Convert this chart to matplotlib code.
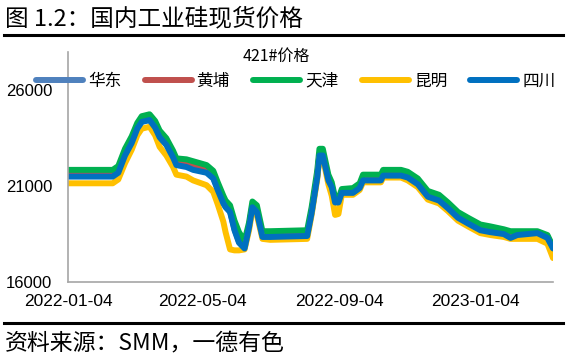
import matplotlib
matplotlib.use("Agg")
import matplotlib.pyplot as plt
import matplotlib.dates as mdates
from matplotlib.lines import Line2D
import pandas as pd

plt.rcParams['font.family'] = ['Noto Sans CJK SC', 'DejaVu Sans']

title = "图 1.2：国内工业硅现货价格"
chart_title = "421#价格"
source = "资料来源：SMM，一德有色"
series_names = ["华东", "黄埔", "天津", "昆明", "四川"]
colors = ["#4F81BD", "#C0504D", "#00B050", "#FFC000", "#0070C0"]

dates = ["2022-01-04", "2022-02-13", "2022-02-18", "2022-02-24", "2022-03-02",
         "2022-03-07", "2022-03-11", "2022-03-18", "2022-03-23", "2022-03-27",
         "2022-04-02", "2022-04-08", "2022-04-11", "2022-04-20", "2022-04-26",
         "2022-05-08", "2022-05-14", "2022-05-18", "2022-05-23", "2022-05-25",
         "2022-05-29", "2022-06-02", "2022-06-06", "2022-06-11", "2022-06-15",
         "2022-06-18", "2022-06-22", "2022-06-27", "2022-07-04", "2022-08-06",
         "2022-08-10", "2022-08-15", "2022-08-17", "2022-08-20", "2022-08-25",
         "2022-08-28", "2022-08-31", "2022-09-03", "2022-09-06", "2022-09-16",
         "2022-09-22", "2022-09-25", "2022-10-11", "2022-10-13", "2022-10-29",
         "2022-11-04", "2022-11-13", "2022-11-22", "2022-12-02", "2022-12-10",
         "2022-12-19", "2022-12-28", "2023-01-08", "2023-01-17", "2023-01-29",
         "2023-02-04", "2023-02-10", "2023-02-28", "2023-03-09", "2023-03-14"]

sichuan = [21500, 21500, 21700, 22600, 23250, 24000, 24350, 24450, 24050, 23550,
           23150, 22500, 22100, 22000, 21850, 21700, 21400, 20800, 20100, 19900,
           19650, 18700, 18050, 17750, 18850, 19900, 19650, 18350, 18350, 18400,
           19600, 21450, 22600, 22600, 21300, 20950, 20150, 20150, 20650, 20650,
           20900, 21300, 21300, 21550, 21550, 21450, 21100, 20450, 20250, 19850,
           19350, 19050, 18700, 18600, 18500, 18300, 18450, 18550, 18300, 17750]

huadong = [21550, 21550, 21750, 22650, 23300, 24050, 24400, 24450, 24100, 23650,
           23250, 22600, 22150, 22100, 21950, 21800, 21450, 20850, 20150, 19950,
           19700, 18750, 18100, 17800, 18900, 19950, 19700, 18400, 18400, 18450,
           19650, 21500, 22600, 22600, 21350, 21000, 20200, 20200, 20700, 20700,
           20950, 21350, 21350, 21600, 21600, 21500, 21150, 20500, 20300, 19900,
           19400, 19100, 18750, 18650, 18550, 18350, 18500, 18600, 18350, 17700]

huangpu = [21600, 21600, 21800, 22700, 23400, 24150, 24500, 24500, 24150, 23650,
           23250, 22650, 22300, 22250, 22150, 21950, 21600, 20950, 20250, 20000,
           19750, 18850, 18200, 17900, 18950, 20000, 19750, 18450, 18450, 18500,
           19700, 21550, 22700, 22700, 21400, 21050, 20250, 20250, 20750, 20750,
           21000, 21400, 21400, 21650, 21650, 21550, 21200, 20550, 20350, 19950,
           19450, 19150, 18800, 18700, 18600, 18500, 18550, 18600, 18400, 17650]

tianjin = [21850, 21850, 22050, 22950, 23600, 24300, 24650, 24750, 24400, 23900,
           23500, 22850, 22450, 22400, 22300, 22100, 21800, 21200, 20500, 20250,
           20000, 19200, 18600, 18150, 19100, 20200, 20000, 18650, 18650, 18700,
           19900, 21800, 22950, 22950, 21600, 21200, 20400, 20350, 20850, 20900,
           21150, 21600, 21600, 21850, 21850, 21750, 21400, 20750, 20550, 20150,
           19650, 19350, 19000, 18900, 18750, 18650, 18650, 18650, 18450, 17850]

kunming = [21150, 21150, 21350, 22200, 22900, 23650, 24000, 24100, 23650, 23050,
           22600, 22000, 21600, 21500, 21300, 21050, 20700, 20050, 19150, 18600,
           17700, 17650, 17650, 17700, 18700, 19750, 19500, 18250, 18200, 18250,
           19500, 21350, 22500, 22500, 21100, 20500, 19500, 19550, 20550, 20550,
           20800, 21200, 21200, 21450, 21450, 21300, 20950, 20300, 20100, 19700,
           19200, 18900, 18550, 18450, 18350, 18250, 18250, 18250, 18000, 17250]

x_ticks = ["2022-01-04", "2022-05-04", "2022-09-04", "2023-01-04"]
y_ticks = [16000, 21000, 26000]

W, H = 567, 360
fig = plt.figure(figsize=(W / 100, H / 100), dpi=100)
ax = fig.add_axes([68 / W, 1 - 282 / H, (553 - 68) / W, (282 - 52) / H])

d = pd.to_datetime(dates)
all_series = [huadong, huangpu, tianjin, kunming, sichuan]
for name, vals, c in zip(series_names, all_series, colors):
    ax.plot(d, vals, color=c, lw=4.3, label=name,
            solid_capstyle='round', solid_joinstyle='round')

ax.set_ylim(16000, 28000)
ax.set_xlim(pd.Timestamp("2022-01-04"), pd.Timestamp("2023-03-14"))
ax.set_yticks(y_ticks)
ax.set_yticklabels([str(v) for v in y_ticks], fontfamily='Liberation Sans', fontsize=12)
ax.set_xticks(pd.to_datetime(x_ticks))
ax.set_xticklabels(x_ticks, fontfamily='Liberation Sans', fontsize=12.5)
ax.tick_params(axis='y', length=0, pad=11.5, colors='black')
ax.tick_params(axis='x', length=0, pad=9, colors='black')
for s in ['top', 'right']:
    ax.spines[s].set_visible(False)
for s in ['left', 'bottom']:
    ax.spines[s].set_color('#A6A6A6')
    ax.spines[s].set_linewidth(1.2)

fig.legend(loc='center left', bbox_to_anchor=(36 / W, 1 - 81 / H), ncol=5,
           frameon=False, borderpad=0, borderaxespad=0, fontsize=12,
           handlelength=2.82, handletextpad=0.3, columnspacing=1.4)

fig.text(276 / W, 1 - 56 / H, chart_title, ha='center', va='center', fontsize=11.5)
fig.text(5 / W, 1 - 19 / H, title, ha='left', va='center', fontsize=17)
fig.text(5 / W, 1 - 343 / H, source, ha='left', va='center', fontsize=16.5)
fig.add_artist(Line2D([4 / W, 563 / W], [1 - 35 / H] * 2, color='black', lw=2.2))
fig.add_artist(Line2D([4 / W, 563 / W], [1 - 323 / H] * 2, color='black', lw=2.2))

fig.savefig("out.png", dpi=100)
